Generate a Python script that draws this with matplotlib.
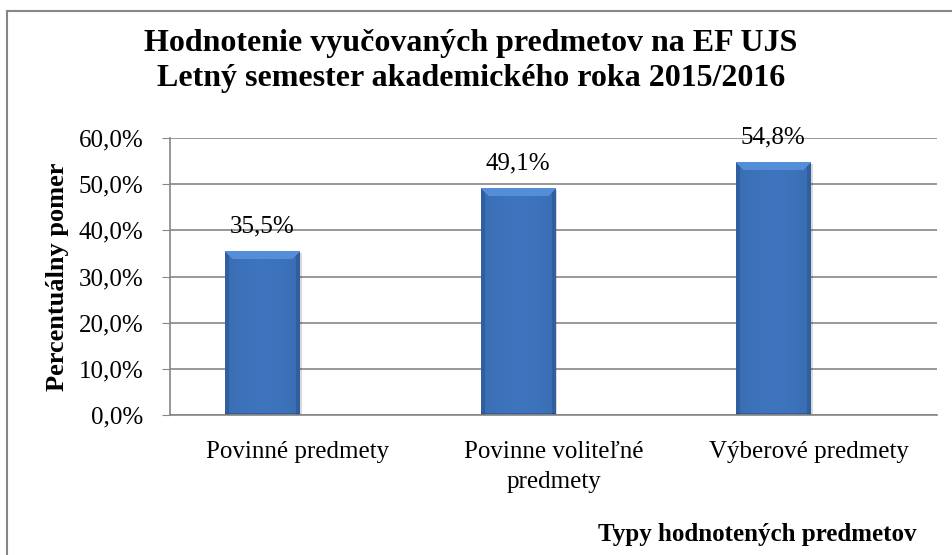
import numpy as np
import matplotlib
matplotlib.use("Agg")
from matplotlib import pyplot as plt
from matplotlib.patches import Rectangle
from matplotlib.lines import Line2D

categories = ["Povinné predmety", "Povinne voliteľné\npredmety", "Výberové predmety"]
values = [0.355, 0.491, 0.548]
value_labels = ["35,5%", "49,1%", "54,8%"]
yticks = [0.0, 0.1, 0.2, 0.3, 0.4, 0.5, 0.6]
ytick_labels = ["0,0%", "10,0%", "20,0%", "30,0%", "40,0%", "50,0%", "60,0%"]

plt.rcParams['font.family'] = ['Liberation Serif', 'DejaVu Serif']

fig = plt.figure(figsize=(9.53, 5.55), dpi=100)
ax = fig.add_axes([170 / 953, 1 - 415 / 555, 767 / 953, 277 / 555])

x = np.arange(len(categories))
offset = -0.14
width = 0.29
px_per_unit = 277 / 0.6

base = np.array([0.235, 0.443, 0.722])
top_col = np.array([0.33, 0.56, 0.85])
side_col = np.array([0.19, 0.37, 0.62])


def bevel_image(wpx, hpx, bevel=8):
    img = np.tile(base, (hpx, wpx, 1))
    c = np.arange(wpx)
    # subtle horizontal shading
    shade = 1 + 0.06 * np.sin(np.pi * c / wpx) - 0.03
    img = img * shade[None, :, None]
    for r in range(hpx):
        for k in range(wpx):
            if r < bevel and r <= k <= wpx - 1 - r:
                img[r, k] = top_col
            elif k < 4 or k > wpx - 5:
                img[r, k] = side_col
    img[-2:] = img[-2:] * 0.85
    return np.clip(img, 0, 1)


bars = ax.bar(x + offset, values, width, color="#3C71B8", zorder=2)
for b in bars:
    x0, w, h = b.get_x(), b.get_width(), b.get_height()
    sh = Rectangle((x0 + 0.01, -0.004), w, h, transform=ax.transData,
                   facecolor="#000000", alpha=0.15, zorder=1.5, lw=0)
    ax.add_patch(sh)
    img = bevel_image(74, int(round(h * px_per_unit)))
    im = ax.imshow(img, extent=[x0, x0 + w, 0, h], aspect='auto',
                   origin='upper', zorder=3, interpolation='bilinear')
    im.set_clip_path(b)

for xi, v, lab in zip(x + offset, values, value_labels):
    ax.annotate(lab, (xi, v), xytext=(0, 18), textcoords="offset points",
                ha="center", va="center", fontsize=18)

ax.set_xlim(-0.5, 2.5)
ax.set_ylim(0, 0.6)
ax.set_yticks(yticks)
ax.set_yticklabels(ytick_labels, fontsize=18)
ax.set_xticks(x)
ax.set_xticklabels(categories, fontsize=18, linespacing=1.45)
ax.tick_params(axis="x", length=0, pad=19)
ax.tick_params(axis="y", length=6, color="#868686", pad=13)
ax.yaxis.grid(True, color="#868686", lw=1.2)
ax.set_axisbelow(True)
for s in ["top", "right"]:
    ax.spines[s].set_visible(False)
for s in ["left", "bottom"]:
    ax.spines[s].set_color("#868686")
    ax.spines[s].set_linewidth(1.2)
ax.spines["bottom"].set_zorder(4)

fig.text(471 / 953, 1 - 61 / 555,
         "Hodnotenie vyučovaných predmetov na EF UJS\nLetný semester akademického roka 2015/2016",
         ha="center", va="center", fontsize=23, fontweight="bold", linespacing=1.25)
fig.text(58 / 953, 1 - 277 / 555, "Percentuálny pomer", rotation=90,
         ha="center", va="center", fontsize=19, fontweight="bold")
fig.text(917 / 953, 1 - 541 / 555, "Typy hodnotených predmetov",
         ha="right", va="baseline", fontsize=18, fontweight="bold")

# chart area border (only top and left visible)
fig.add_artist(Line2D([7 / 953, 1.0], [1 - 10.5 / 555] * 2, transform=fig.transFigure,
                      color="#868686", lw=1.5))
fig.add_artist(Line2D([7 / 953] * 2, [1 - 10.5 / 555, 0.0], transform=fig.transFigure,
                      color="#868686", lw=1.5))

fig.savefig("out.png", dpi=100)
